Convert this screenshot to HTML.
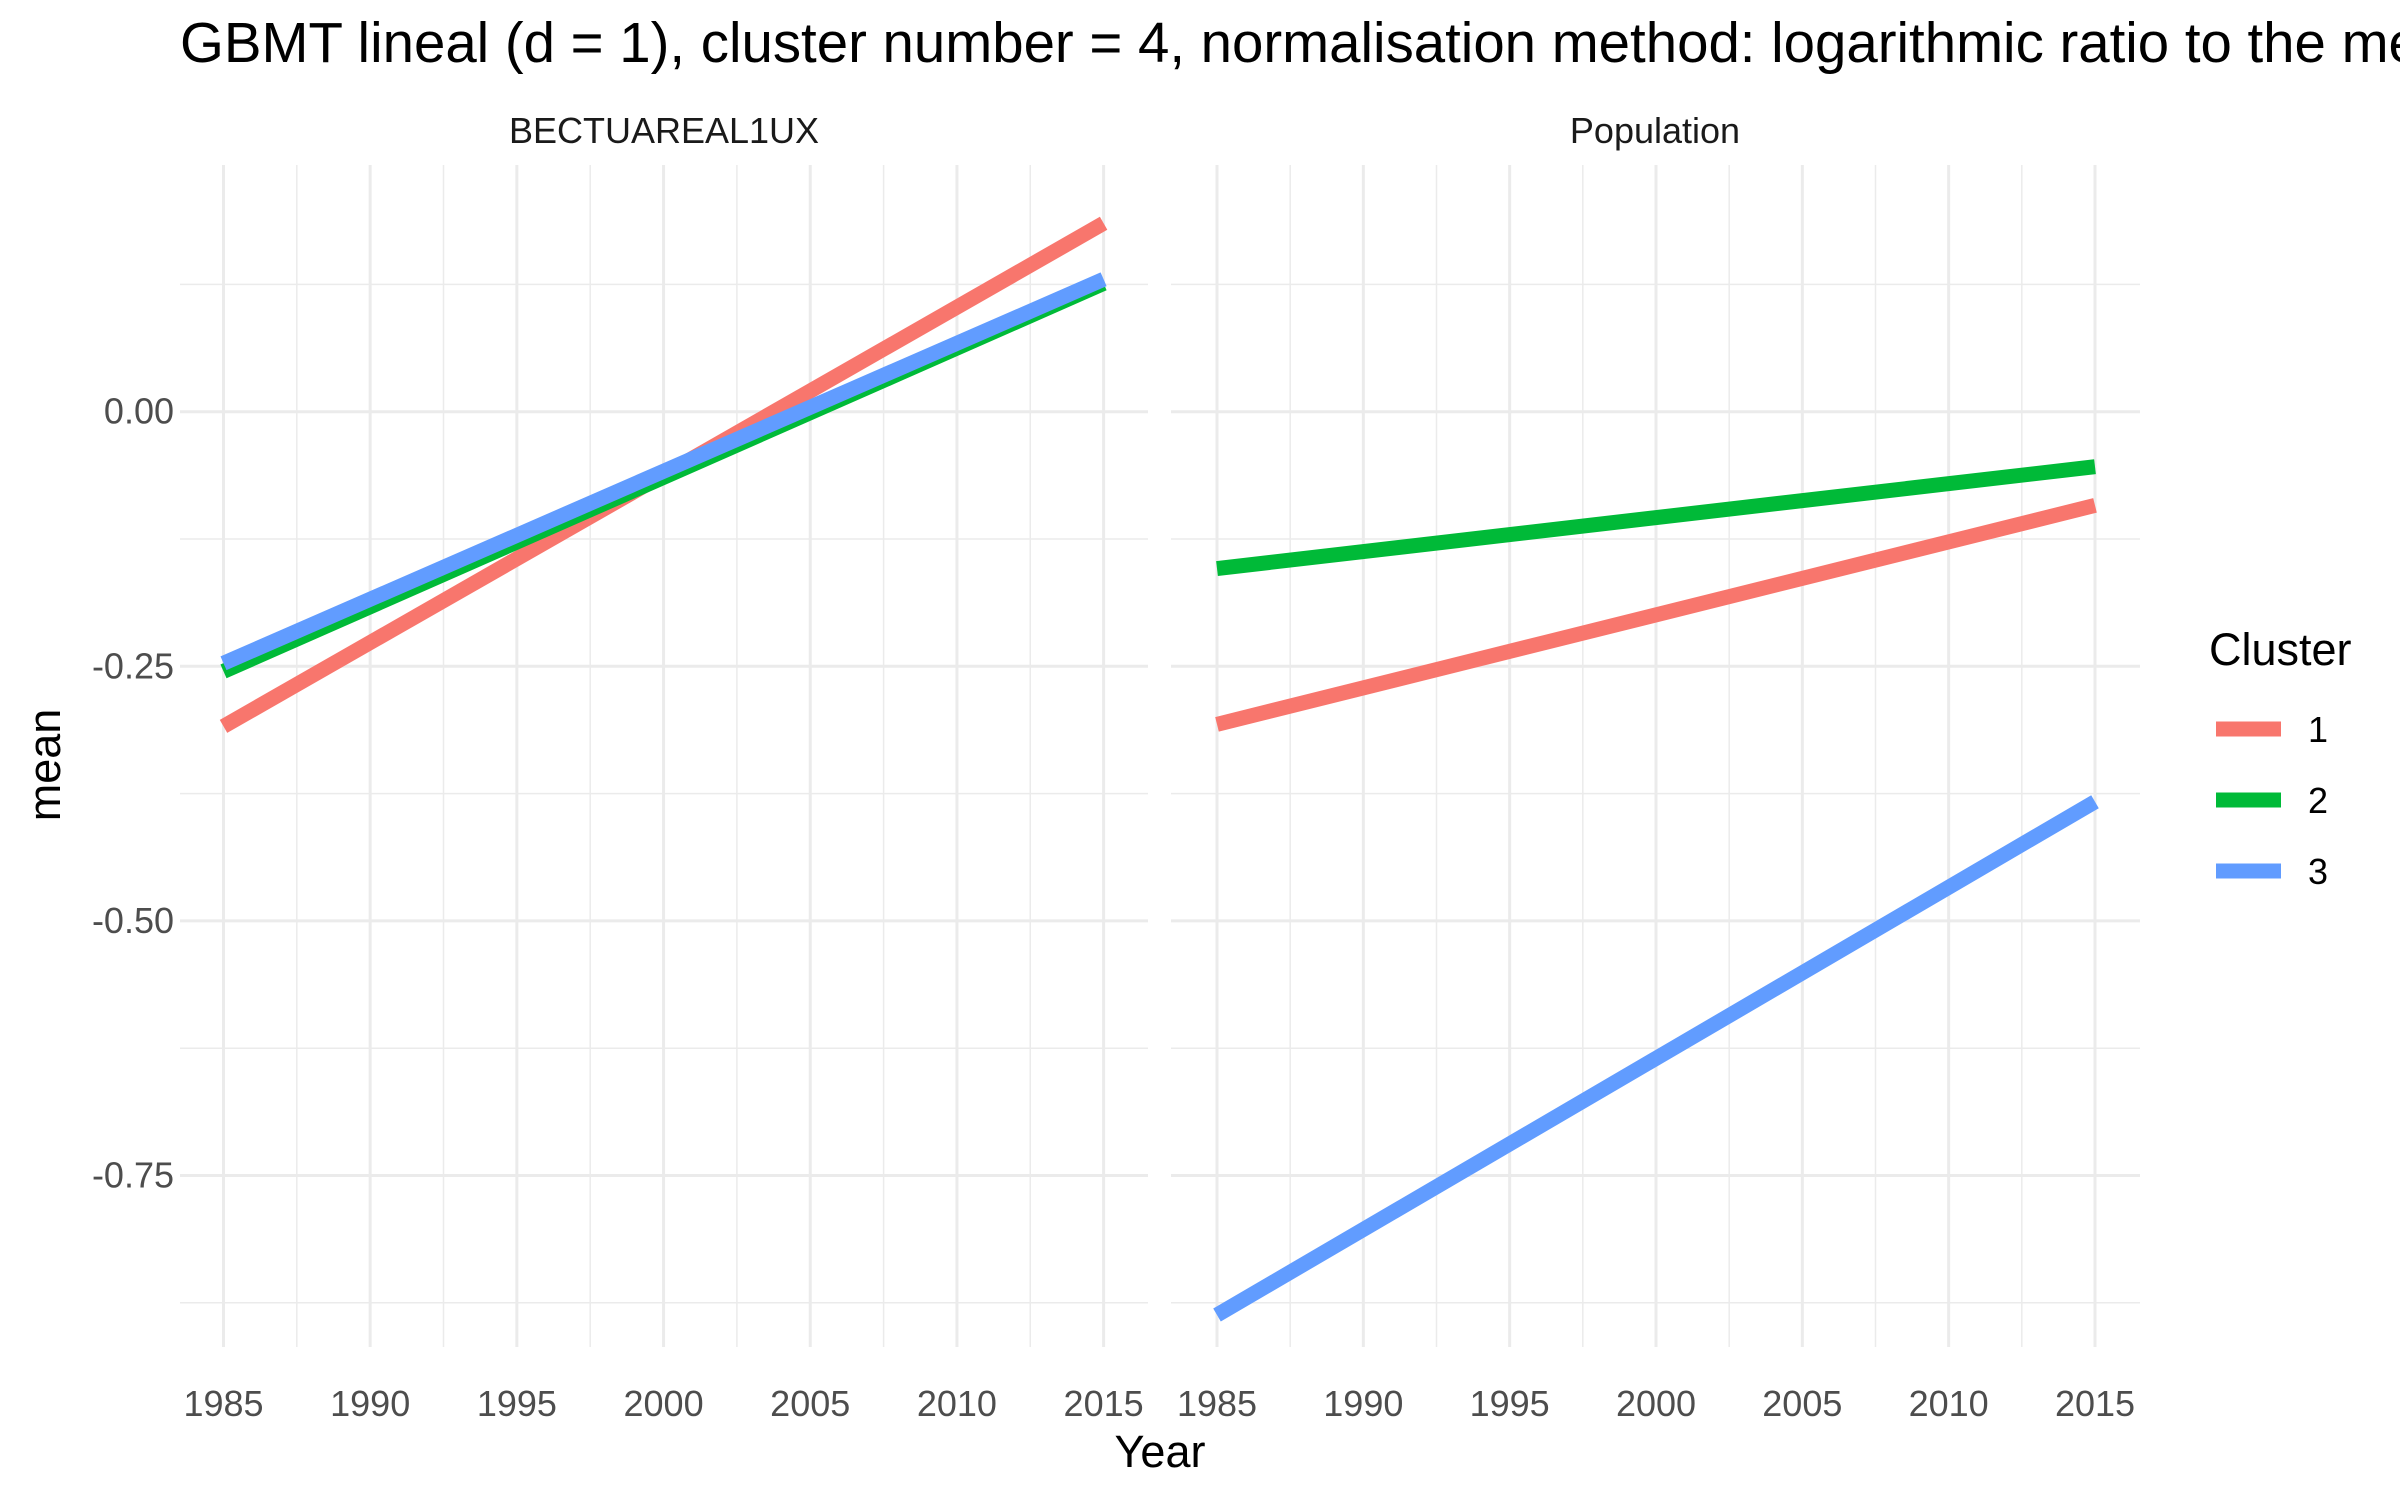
<!DOCTYPE html>
<html><head><meta charset="utf-8"><style>
html,body{margin:0;padding:0;background:#fff;overflow:hidden;}
svg{display:block;font-family:"Liberation Sans",Arial,sans-serif;}
</style></head><body>
<svg id="chart" width="2400" height="1500" viewBox="0 0 2400 1500">
<text x="180" y="62" font-size="56.4" fill="#000">GBMT lineal (d = 1), cluster number = 4, normalisation method: logarithmic ratio to the mean</text>
<text x="664" y="143" font-size="36" fill="#1a1a1a" text-anchor="middle">BECTUAREAL1UX</text>
<text x="1655" y="143" font-size="36" fill="#1a1a1a" text-anchor="middle">Population</text>
<text x="1160" y="1467" font-size="45" fill="#000" text-anchor="middle">Year</text>
<text transform="translate(60,765) rotate(-90)" font-size="45" fill="#000" text-anchor="middle">mean</text>
<text x="2209" y="665" font-size="45" fill="#000">Cluster</text>
<g id="grid"></g>
<g id="marks"></g>
<g id="legend"></g>
</svg>
<script>
const years = [1985, 2015];
const facets = ["BECTUAREAL1UX", "Population"];
const clusters = ["1", "2", "3"];
const colors = ["#F8766D", "#00BA38", "#619CFF"];
const bectStart = [-0.309, -0.255, -0.247];
const bectEnd = [0.185, 0.126, 0.130];
const popStart = [-0.307, -0.154, -0.887];
const popEnd = [-0.092, -0.054, -0.383];
const yTicks = [0, -0.25, -0.5, -0.75];
const yTickLabels = ["0.00", "-0.25", "-0.50", "-0.75"];
const yMinor = [0.125, -0.125, -0.375, -0.625, -0.875];
const xTicks = [1985, 1990, 1995, 2000, 2005, 2010, 2015];
const xMinor = [1987.5, 1992.5, 1997.5, 2002.5, 2007.5, 2012.5];

const NS = "http://www.w3.org/2000/svg";
const panels = [
  {left:180, right:1148, x0:223.5, x1:1103.6},
  {left:1171, right:2140, x0:1217, x1:2095}
];
const plotTop = 165, plotBottom = 1347;
function yScale(v){ return 411.7 - v * 1018.4; }
function xScale(p, yr){ return p.x0 + (yr - 1985) / 30 * (p.x1 - p.x0); }
function mk(tag, attrs, parent){
  const e = document.createElementNS(NS, tag);
  for (const k in attrs) e.setAttribute(k, attrs[k]);
  parent.appendChild(e);
  return e;
}
const grid = document.getElementById('grid');
const marks = document.getElementById('marks');
const legend = document.getElementById('legend');

panels.forEach((p, pi) => {
  yMinor.forEach(v => {
    const l = mk('line', {x1:p.left, x2:p.right, y1:yScale(v), y2:yScale(v), stroke:'#ebebeb', 'stroke-width':1.5}, grid);
    
    
  });
  xMinor.forEach(v => {
    const l = mk('line', {x1:xScale(p, v), x2:xScale(p, v), y1:plotTop, y2:plotBottom, stroke:'#ebebeb', 'stroke-width':1.5}, grid);
    
    
  });
  yTicks.forEach((v, i) => {
    const l = mk('line', {x1:p.left, x2:p.right, y1:yScale(v), y2:yScale(v), stroke:'#ebebeb', 'stroke-width':3}, grid);
    
    
    if (pi === 0) {
      const t = mk('text', {x:174, y:yScale(v) + 12, 'font-size':36, fill:'#4d4d4d', 'text-anchor':'end'}, grid);
      t.textContent = yTickLabels[i];
      
      
    }
  });
  xTicks.forEach(v => {
    const l = mk('line', {x1:xScale(p, v), x2:xScale(p, v), y1:plotTop, y2:plotBottom, stroke:'#ebebeb', 'stroke-width':3}, grid);
    
    
    const t = mk('text', {x:xScale(p, v), y:1416, 'font-size':36, fill:'#4d4d4d', 'text-anchor':'middle'}, grid);
    t.textContent = String(v);
    
    
  });
  const starts = pi === 0 ? bectStart : popStart;
  const ends = pi === 0 ? bectEnd : popEnd;
  clusters.forEach((c, ci) => {
    const l = mk('line', {x1:xScale(p, years[0]), y1:yScale(starts[ci]), x2:xScale(p, years[1]), y2:yScale(ends[ci]), stroke:colors[ci], 'stroke-width':15}, marks);
    
    
  });
});
clusters.forEach((c, ci) => {
  const y = 729 + ci * 71;
  const k = mk('line', {x1:2216, x2:2281, y1:y, y2:y, stroke:colors[ci], 'stroke-width':15}, legend);
  
  
  const t = mk('text', {x:2308, y:y + 13, 'font-size':36, fill:'#000'}, legend);
  t.textContent = c;
  
  
});
</script>
</body></html>
